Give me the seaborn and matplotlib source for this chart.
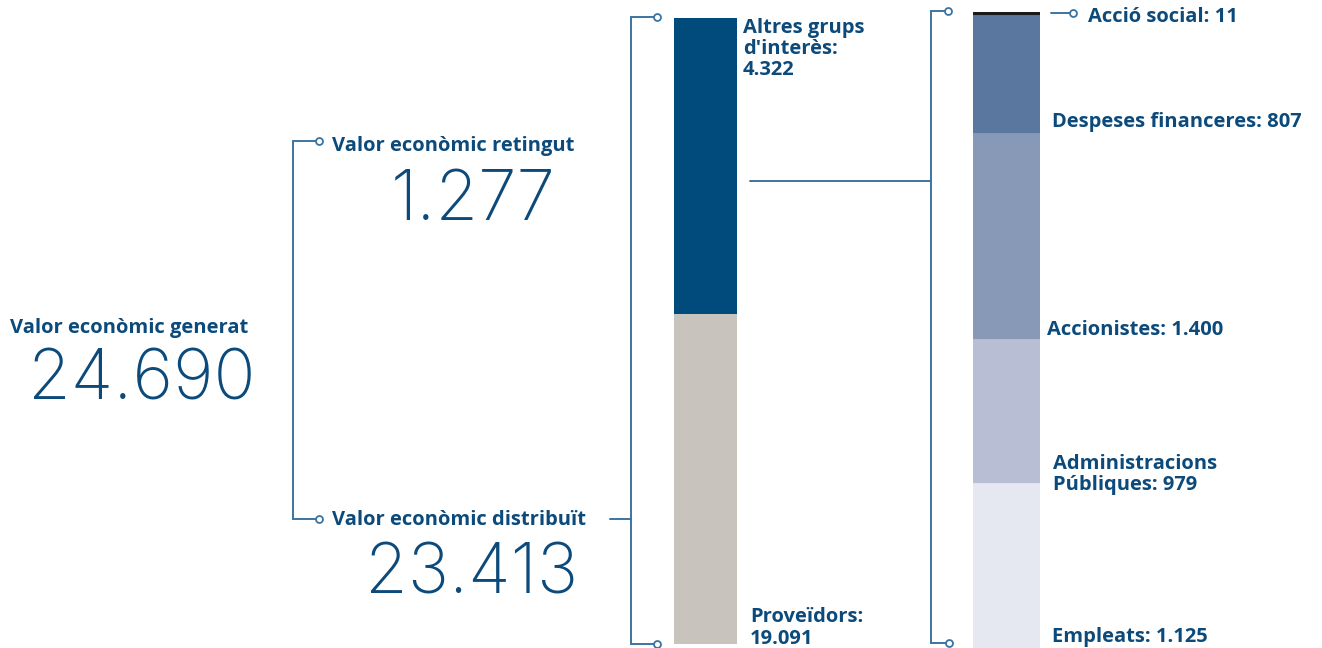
import matplotlib
matplotlib.use("Agg")
import matplotlib.pyplot as plt
import seaborn as sns

# ---------------- data ----------------
generat = "24.690"
retingut = "1.277"
distribuit = "23.413"

bar1_labels = ["Proveïdors", "Altres grups d'interès"]
bar1_values = [19091, 4322]
bar1_colors = ["#c8c4bd", "#004b7c"]

bar2_labels = ["Empleats", "Administracions Públiques", "Accionistes",
               "Despeses financeres", "Acció social"]
bar2_values = [1125, 979, 1400, 807, 11]
bar2_colors = ["#e5e8f1", "#b8bfd4", "#8899b8", "#5a779f", "#1a1a1a"]

# ---------------- style ----------------
sns.set_theme(style="white")
plt.rcParams["font.family"] = ["Open Sans", "DejaVu Sans"]

TXT = "#0b4a7a"
LINE = "#3b74a1"
W, H = 1322, 648

fig = plt.figure(figsize=(W / 100, H / 100), dpi=100)
fig.patch.set_facecolor("white")

# pixel-coordinate overlay axes
bg = fig.add_axes([0, 0, 1, 1])
bg.set_xlim(0, W)
bg.set_ylim(H, 0)
bg.axis("off")


def px_axes(x0, y0, x1, y1):
    return fig.add_axes([x0 / W, (H - y1) / H, (x1 - x0) / W, (y1 - y0) / H])


def stacked(ax, values, colors, lw=0):
    cum = 0
    for v, c in zip(values, colors):
        sns.barplot(x=[0], y=[v], bottom=cum, color=c, saturation=1, width=1,
                    errorbar=None, ax=ax, linewidth=lw, edgecolor=c)
        cum += v
    ax.set_xlim(-0.5, 0.5)
    ax.axis("off")


# bar 1 (truncated axis, as in the reference)
ax1 = px_axes(674, 18, 737, 644)
stacked(ax1, bar1_values, bar1_colors)
ax1.set_ylim(14272, sum(bar1_values))

# bar 2 (proportional)
ax2 = px_axes(973, 12, 1040, 648)
stacked(ax2, bar2_values, bar2_colors, lw=0.8)
ax2.set_ylim(0, sum(bar2_values))

# ---------------- connector lines ----------------
lkw = dict(color=LINE, lw=1.4, solid_joinstyle="miter", zorder=3)
ckw = dict(marker="o", ms=5, mfc="white", mec=LINE, mew=1.3, zorder=4, ls="none")

def bracket(x, xt, y0, y1, xb=None):
    xb = xt if xb is None else xb
    bg.plot([xt, x, x, xb], [y0, y0, y1, y1], **lkw)
    bg.plot([xt, xb], [y0, y1], **ckw)

bracket(293, 319, 141, 519)
bracket(631, 657, 17, 644)
bracket(931, 948, 11, 643, 949)
bg.plot([610, 631], [519, 519], **lkw)
bg.plot([750, 931], [181, 181], **lkw)
bg.plot([1051, 1073], [13, 13], **lkw)
bg.plot([1073], [13], **ckw)

# ---------------- text ----------------
LAB = dict(color=TXT, fontsize=14.5, fontweight="bold", va="baseline", ha="left")
BIG = dict(color=TXT, fontsize=50, fontweight="light", va="baseline",
           family=["Inter", "DejaVu Sans"])

bg.text(10, 333, "Valor econòmic generat", **LAB)
bg.text(256, 400, generat, ha="right", **BIG)
bg.text(556, 220, retingut, ha="right", **BIG)
bg.text(332, 151, "Valor econòmic retingut", **LAB)
bg.text(332, 525, "Valor econòmic distribuït", **LAB)
bg.text(578, 593, distribuit, ha="right", **BIG)

def fmt(v):
    return f"{v:,}".replace(",", ".")

bg.text(743, 33, "Altres grups", **LAB)
bg.text(743, 54, "d'interès:", **LAB)
bg.text(743, 75, fmt(bar1_values[1]), **LAB)
bg.text(750, 622, "Proveïdors:", **LAB)
bg.text(750, 644, fmt(bar1_values[0]), **LAB)

bg.text(1088, 22, f"Acció social: {fmt(bar2_values[4])}", **LAB)
bg.text(1052, 127, f"Despeses financeres: {fmt(bar2_values[3])}", **LAB)
bg.text(1047, 335, f"Accionistes: {fmt(bar2_values[2])}", **LAB)
bg.text(1053, 469, "Administracions", **LAB)
bg.text(1053, 490, f"Públiques: {fmt(bar2_values[1])}", **LAB)
bg.text(1052, 642, f"Empleats: {fmt(bar2_values[0])}", **LAB)

fig.savefig("out.png", dpi=100, facecolor="white")
